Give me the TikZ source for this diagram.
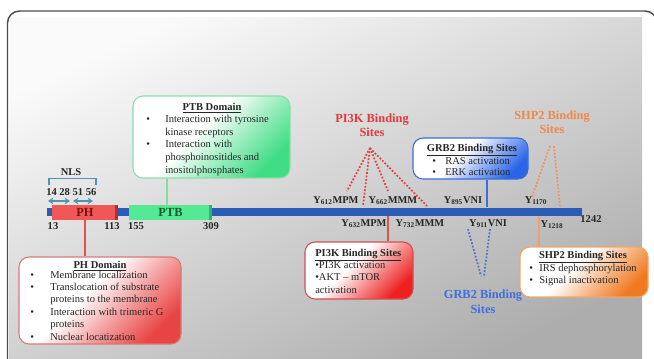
\documentclass[tikz,border=0pt]{standalone}
\usepackage{fontspec}
\setmainfont{Liberation Serif}
\usetikzlibrary{arrows.meta}
\definecolor{barblue}{HTML}{2B5CB5}
\definecolor{phred}{HTML}{F05858}
\definecolor{phdark}{HTML}{C02A2A}
\definecolor{phtxt}{HTML}{7A1010}
\definecolor{ptbgreen}{HTML}{55E895}
\definecolor{ptbdark}{HTML}{2FB565}
\definecolor{ptbtxt}{HTML}{145A2A}
\definecolor{nlsC}{HTML}{4F93B5}
\definecolor{redT}{HTML}{E23A3A}
\definecolor{blueT}{HTML}{3D6FE0}
\definecolor{orangeT}{HTML}{F0884A}
\definecolor{phB}{HTML}{D87878}
\definecolor{phS}{HTML}{E84444}
\definecolor{ptbB}{HTML}{8FDCAA}
\definecolor{ptbS}{HTML}{40DD85}
\definecolor{grbB}{HTML}{3A6FD8}
\definecolor{grbS}{HTML}{2A65E8}
\definecolor{piB}{HTML}{D05050}
\definecolor{piS}{HTML}{EE2020}
\definecolor{shpB}{HTML}{F0A868}
\definecolor{shpS}{HTML}{F07A20}
\definecolor{lnRed}{HTML}{E05050}
\definecolor{lnGreen}{HTML}{80E0A0}
\definecolor{lnBlue}{HTML}{3A6FD8}
\definecolor{lnOrange}{HTML}{F0A070}
\definecolor{dotRed}{HTML}{E04040}
\definecolor{dotBlue}{HTML}{5070D0}
\definecolor{dotOrange}{HTML}{F09060}
\newcommand\mkshade[2]{\pgfdeclareverticalshading{#1}{100bp}{color(0bp)=(#2); color(25bp)=(#2); color(40bp)=(#2!55!white); color(56bp)=(white); color(100bp)=(white)}}
\mkshade{phshade}{phS}
\mkshade{ptbshade}{ptbS}
\mkshade{grbshade}{grbS}
\mkshade{pishade}{piS}
\mkshade{shpshade}{shpS}
\newcommand\bl[1]{\makebox[#1][l]{\textbullet}}
\def\PX{0.75pt}
\tikzset{
  pbox/.style={shade, shading angle=45, rounded corners=7.5pt, line width=0.8pt, inner sep=0pt},
  bodytxt/.style={font=\fontsize{7.9}{9.3}\selectfont, text=black!85, inner sep=0pt, align=left, anchor=base west},
  ttl/.style={font=\fontsize{7.9}{9.3}\selectfont\bfseries, text=black!85, inner sep=0pt, anchor=base},
  bind/.style={font=\fontsize{9.3}{10.8}\selectfont\bfseries, inner sep=0pt, align=center, anchor=base},
  ylab/.style={font=\fontsize{7.8}{9}\selectfont\bfseries, text=black!85, inner sep=0pt, anchor=base},
  numlab/.style={font=\fontsize{7.9}{9}\selectfont\bfseries, text=black!85, inner sep=0pt, anchor=base},
  dom/.style={inner sep=0pt, minimum height=15*\PX},
  conn/.style={line width=1.5pt},
  dots/.style={line width=1.3pt, dash pattern=on 1.3pt off 1.3pt},
}
\begin{document}
\begin{tikzpicture}[x=0.75pt,y=-0.75pt]
\useasboundingbox (0,0) rectangle (654,358);
\clip (0,0) rectangle (654,358);
\fill[white] (0,0) rectangle (654,358);
\shade[top color=black!2, bottom color=black!32, shading angle=25] (9,17) rectangle (642,360);
\draw[line width=1.1pt, black!70, rounded corners=9] (7.5,11) rectangle (657,380);

% main bar and domains
\node[inner sep=0pt, fill=barblue, minimum width=535*\PX, minimum height=8*\PX] (bar) at (314.5,211.5) {};
\node[dom, fill=phred, minimum width=66*\PX] (phr) at (85,212.5) {};
\fill[phdark] ([xshift=-2.5pt]phr.north east) rectangle (phr.south east);
\node[font=\fontsize{9.3}{11}\selectfont\bfseries, text=phtxt, inner sep=0pt] (phl) at (85,212.5) {PH};
\node[dom, fill=ptbgreen, minimum width=83*\PX] (ptbr) at (170.5,212.5) {};
\fill[ptbdark] ([xshift=-2.5pt]ptbr.north east) rectangle (ptbr.south east);
\node[font=\fontsize{9.3}{11}\selectfont\bfseries, text=ptbtxt, inner sep=0pt] (ptbl) at (170.5,212.5) {PTB};

% numbers
\node[numlab] (n13) at (53,229.5) {13};
\node[numlab] (n113) at (112,229.5) {113};
\node[numlab] (n155) at (136,229.5) {155};
\node[numlab] (n309) at (211,229.5) {309};
\node[numlab] (n1242) at (591,222.5) {1242};
\node[numlab, anchor=base west] (nls4) at (46,195.5) {14 28 51 56};
\node[numlab] (nls) at (71,175.5) {NLS};
\draw[nlsC, line width=1.2pt] (49,185) -- (49,178.5) -- (96,178.5) -- (96,185);
\coordinate (a1) at (48,201); \coordinate (a2) at (70,201);
\coordinate (a3) at (73,201); \coordinate (a4) at (93,201);
\draw[nlsC, line width=1.3pt, {Stealth[length=4pt,width=5pt]}-{Stealth[length=4pt,width=5pt]}] (a1) -- (a2);
\draw[nlsC, line width=1.3pt, {Stealth[length=4pt,width=5pt]}-{Stealth[length=4pt,width=5pt]}] (a3) -- (a4);

% Y labels
\node[ylab] (y612) at (336,203.5) {Y\textsubscript{612}MPM};
\node[ylab] (y662) at (393,203.5) {Y\textsubscript{662}MMM};
\node[ylab] (y895) at (463,203.5) {Y\textsubscript{895}VNI};
\node[ylab] (y1170) at (536,203.5) {Y\textsubscript{1170}};
\node[ylab] (y632) at (364,226.5) {Y\textsubscript{632}MPM};
\node[ylab] (y732) at (420,226.5) {Y\textsubscript{732}MMM};
\node[ylab] (y911) at (488,226.5) {Y\textsubscript{911}VNI};
\node[ylab] (y1218) at (552,227.5) {Y\textsubscript{1218}};

% PH box
\node[pbox, shading=phshade, draw=phB, minimum width=162*\PX, minimum height=87*\PX] (phbox) at (100,300.5) {};
\node[ttl] (pht) at (100,268) {\underline{PH Domain}};
\node[bodytxt] (phb) at (30,340) {\bl{15pt}Membrane localization\\\bl{15pt}Translocation of substrate\\\hspace*{15pt}proteins to the membrane\\\bl{15pt}Interaction with trimeric G\\\hspace*{15pt}proteins\\\bl{15pt}Nuclear locatization};
\draw[lnRed, conn] (phr.south) -- (phr.south |- phbox.north);

% PTB box
\node[pbox, shading=ptbshade, draw=ptbB, minimum width=157*\PX, minimum height=82*\PX] (ptbbox) at (211.5,137) {};
\node[ttl] (ptbt) at (212,110) {\underline{PTB Domain}};
\node[bodytxt, font=\fontsize{7.9}{9.4}\selectfont] (ptbb) at (146,173) {\bl{14.25pt}Interaction with tyrosine\\\hspace*{14.25pt}kinase receptors\\\bl{14.25pt}Interaction with\\\hspace*{14.25pt}phosphoinositides and\\\hspace*{14.25pt}inositolphosphates};
\coordinate (ptbc) at (167,0);
\draw[lnGreen, conn] (ptbbox.south -| ptbc) -- (ptbr.north -| ptbc);

% PI3K
\node[bind, text=redT] (pi3kt) at (372,136.4) {PI3K Binding\\Sites};
\coordinate (piapex) at (370,148);
\coordinate (pe1) at (347,191); \coordinate (pe2) at (363,206);
\coordinate (pe3) at (388,191); \coordinate (pe4) at (428,207);
\draw[dotRed, dots] (piapex) -- (pe1);
\draw[dotRed, dots] (piapex) -- (pe2);
\draw[dotRed, dots] (piapex) -- (pe3);
\draw[dotRed, dots] (piapex) -- (pe4);
\node[pbox, shading=pishade, draw=piB, minimum width=108*\PX, minimum height=57*\PX] (pibox) at (359,270.5) {};
\node[bodytxt, font=\fontsize{7.9}{9.3}\selectfont] (pib) at (315,293.2) {\underline{\textbf{PI3K Binding Sites}}\\\textbullet PI3K activation\\\textbullet AKT -- mTOR\\activation};
\coordinate (pic) at (388,0);
\draw[lnRed, conn] (bar.south -| pic) -- (pibox.north -| pic);

% GRB2
\node[pbox, shading=grbshade, draw=grbB, minimum width=115*\PX, minimum height=41*\PX] (grbbox) at (470.5,158.5) {};
\node[ttl] (grbt) at (472,151) {\underline{GRB2 Binding Sites}};
\node[bodytxt, font=\fontsize{7.9}{8.6}\selectfont] (grbb) at (432,175.5) {\bl{9.75pt}RAS activation\\\bl{9.75pt}ERK activation};
\coordinate (grbc) at (487,0);
\draw[lnBlue, conn] (grbbox.south -| grbc) -- (bar.north -| grbc);
\node[bind, text=blueT] (grbt2) at (483,313) {GRB2 Binding\\Sites};
\coordinate (ge1) at (468,229); \coordinate (ge2) at (481,276);
\coordinate (ge3) at (490,229); \coordinate (ge4) at (484,276);
\draw[dotBlue, dots] (ge1) -- (ge2);
\draw[dotBlue, dots] (ge3) -- (ge4);

% SHP2
\node[bind, text=orangeT] (shpt) at (552,133.4) {SHP2 Binding\\Sites};
\coordinate (se1) at (550,146); \coordinate (se2) at (532,197);
\coordinate (se3) at (554,146); \coordinate (se4) at (560,207);
\draw[dotOrange, dots] (se1) -- (se2);
\draw[dotOrange, dots] (se3) -- (se4);
\node[pbox, shading=shpshade, draw=shpB, minimum width=128*\PX, minimum height=50*\PX] (shpbox) at (584,272) {};
\node[ttl] (shpt2) at (583,258) {\underline{SHP2 Binding Sites}};
\node[bodytxt, font=\fontsize{7.9}{9}\selectfont] (shpb) at (529,283) {\bl{7.5pt}IRS dephosphorylation\\\bl{7.5pt}Signal inactivation};
\coordinate (shpc) at (539,0);
\draw[lnOrange, conn] (bar.south -| shpc) -- (shpbox.north -| shpc);
\end{tikzpicture}
\end{document}
